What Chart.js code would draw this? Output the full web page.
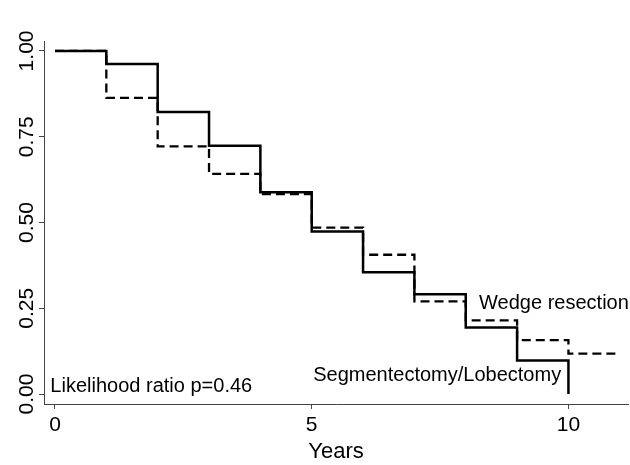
<!DOCTYPE html>
<html>
<head>
<meta charset="utf-8">
<script src="https://cdn.jsdelivr.net/npm/chart.js@4/dist/chart.umd.min.js"></script>
<style>
  html, body { margin: 0; padding: 0; background: #fff; }
  #wrap { width: 630px; height: 465px; }
</style>
</head>
<body>
<div id="wrap"><canvas id="km"></canvas></div>
<script>
// Kaplan-Meier survival estimates
const segTimes = [0, 1, 2, 3, 4, 5, 6, 7, 8, 9, 10];
const segSurv = [1.00, 0.962, 0.822, 0.724, 0.588, 0.474, 0.355, 0.291, 0.194, 0.098, 0.00];

const wedgeTimes = [0, 1, 2, 3, 4, 5, 6, 7, 8, 9, 10, 11];
const wedgeSurv = [1.00, 0.863, 0.722, 0.642, 0.583, 0.485, 0.406, 0.270, 0.215, 0.157, 0.118, 0.118];

const xTicks = [0, 5, 10];
const yTicks = [0, 0.25, 0.5, 0.75, 1];

const FONT = '"Liberation Sans", Arial, Helvetica, sans-serif';
const AXIS = '#444';

function toPoints(xs, ys) {
    return xs.map((x, i) => ({ x: x, y: ys[i] }));
}

// text labels inside the plot, positioned in data units
const notes = [
    { text: 'Wedge resection', x: 8.26, y: 0.265 },
    { text: 'Segmentectomy/Lobectomy', x: 5.03, y: 0.054 },
    { text: 'Likelihood ratio p=0.46', x: -0.09, y: 0.022 }
];

const notesPlugin = {
    id: 'notes',
    afterDatasetsDraw(chart) {
        const { ctx, scales: { x, y } } = chart;
        ctx.save();
        ctx.font = '20px ' + FONT;
        ctx.fillStyle = '#000';
        ctx.textAlign = 'left';
        ctx.textBaseline = 'middle';
        notes.forEach(n => {
            ctx.fillText(n.text, x.getPixelForValue(n.x), y.getPixelForValue(n.y));
        });
        ctx.restore();
    }
};

new Chart(document.getElementById('km'), {
    type: 'line',
    data: {
        datasets: [{
            label: 'Segmentectomy/Lobectomy',
            data: toPoints(segTimes, segSurv),
            borderColor: '#000',
            borderWidth: 2.5,
            stepped: 'before',
            pointRadius: 0,
            fill: false
        }, {
            label: 'Wedge resection',
            data: toPoints(wedgeTimes, wedgeSurv),
            borderColor: '#000',
            borderWidth: 2.3,
            borderDash: [9, 5],
            stepped: 'before',
            pointRadius: 0,
            fill: false
        }]
    },
    options: {
        responsive: true,
        maintainAspectRatio: false,
        animation: false,
        layout: { padding: { left: 0, right: 2, top: 41, bottom: 0 } },
        plugins: {
            legend: { display: false },
            tooltip: { enabled: false }
        },
        scales: {
            x: {
                type: 'linear',
                min: -0.214,
                max: 11.16,
                afterBuildTicks: s => { s.ticks = xTicks.map(v => ({ value: v })); },
                afterFit: s => { s.height = 61; },
                grid: { drawOnChartArea: false, drawTicks: true, tickLength: 5, color: AXIS },
                border: { display: true, color: AXIS, width: 1 },
                ticks: {
                    color: '#000',
                    font: { family: FONT, size: 21 },
                    padding: 4,
                    maxRotation: 0,
                    autoSkip: false
                },
                title: {
                    display: true,
                    text: 'Years',
                    color: '#000',
                    font: { family: FONT, size: 22 },
                    padding: { top: 0, bottom: 0 }
                }
            },
            y: {
                type: 'linear',
                min: -0.029,
                max: 1.029,
                afterBuildTicks: s => { s.ticks = yTicks.map(v => ({ value: v })); },
                afterFit: s => { s.width = 44; },
                grid: { drawOnChartArea: false, drawTicks: true, tickLength: 5, color: AXIS },
                border: { display: true, color: AXIS, width: 1 },
                ticks: {
                    color: '#000',
                    font: { family: FONT, size: 21 },
                    minRotation: 90,
                    maxRotation: 90,
                    crossAlign: 'center',
                    padding: -9,
                    callback: v => v.toFixed(2)
                }
            }
        }
    },
    plugins: [notesPlugin]
});
</script>
</body>
</html>
